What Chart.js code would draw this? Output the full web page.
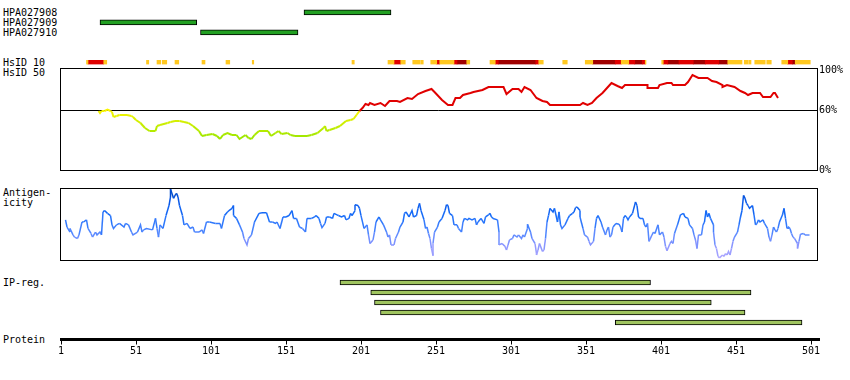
<!DOCTYPE html>
<html>
<head>
<meta charset="utf-8">
<script src="https://cdn.jsdelivr.net/npm/chart.js@4.4.1/dist/chart.umd.min.js"></script>
<style>
body { margin: 0; background: #fff; }
#wrap { position: relative; width: 850px; height: 380px; overflow: hidden;
        font-family: "DejaVu Sans Mono", monospace; font-size: 10px; line-height: 10px; color: #000; }
#wrap canvas { position: absolute; left: 0; }
.lbl { position: absolute; left: 3px; white-space: pre; }
</style>
</head>
<body>
<div id="wrap">
  <div class="lbl" style="top:7.5px">HPA027908</div>
  <div class="lbl" style="top:17.5px">HPA027909</div>
  <div class="lbl" style="top:27.5px">HPA027910</div>
  <div class="lbl" style="top:57.5px">HsID 10</div>
  <div class="lbl" style="top:67.5px">HsID 50</div>
  <div class="lbl" style="top:187.5px">Antigen-<br>icity</div>
  <div class="lbl" style="top:278px">IP-reg.</div>
  <div class="lbl" style="top:335px">Protein</div>
</div>
<script>
// antibody epitopes (residue ranges)
const hpaNames = ['HPA027908', 'HPA027909', 'HPA027910'];
const hpaRanges = [[163, 221], [27, 91.5], [94, 159]];

// HsID 10 strip, by colour class
const stripOrange = [[18, 19], [29.5, 31.5], [58, 59.5], [65, 67.5], [68.5, 71.5], [77, 79.5], [95, 97],
  [111, 113.5], [128.5, 129.5], [195, 196.5], [219, 223], [227.5, 230.5], [235.5, 240.5], [241, 242.5],
  [247.5, 251.5], [253.5, 263], [271.5, 273.5], [287, 290.5], [319.5, 322.5], [335.5, 338.5], [350.5, 355.5],
  [374.5, 379.5], [390.5, 391], [401.5, 402.5], [445.5, 455], [456.5, 459], [459.5, 461], [463.5, 470.5],
  [471.5, 474.5], [481.5, 485.5], [490.5, 500.5]];
const stripRed = [[19, 29.5], [223, 227.5], [251.5, 253.5], [263, 265], [290.5, 292.5], [317.5, 319.5],
  [370.5, 374.5], [379.5, 383.5], [388.5, 390.5], [402.5, 405.5], [413, 422.5], [430.5, 439.5], [485.5, 488.5]];
const stripDark = [[265, 271.5], [292.5, 317.5], [355.5, 370.5], [383.5, 388.5], [405.5, 413], [422.5, 430.5],
  [439.5, 445.5], [488.5, 490.5]];

// HsID 50 identity (%)
const hsidRes = [26, 27, 28, 30, 32, 34, 35, 36, 38, 40, 45, 48, 49, 51, 54, 57, 60, 64, 65, 67,
  72, 74, 77, 80, 83, 86, 89, 93, 95, 98, 102, 105, 107, 109, 112, 115, 118, 120, 124, 126,
  128, 130, 133, 136, 139, 141, 144, 146, 148, 152, 154, 157, 160, 165, 168, 172, 176, 177, 178, 180,
  184, 187, 191, 194, 196, 198, 200, 202, 204, 206, 207, 210, 214, 217, 220, 225, 227, 232, 235, 239,
  244, 248, 250, 255, 259, 262, 264, 267, 269, 274, 276, 282, 286, 296, 298, 302, 306, 308, 310, 314,
  318, 322, 325, 327, 347, 349, 352, 355, 358, 362, 365, 368, 372, 375, 377, 392, 392, 399, 400, 405,
  408, 409, 417, 419, 422, 426, 432, 435, 438, 442, 442, 445, 450, 454, 457, 459, 462, 467, 469, 474,
  476, 477, 479];
const hsidPct = [59, 57, 59, 59, 60.5, 59, 58, 53, 54, 55, 55, 54, 53, 50, 47, 42, 39, 39, 44, 45,
  47, 48, 49, 49, 48, 47, 44, 39, 34, 35, 36, 34, 31, 35, 37, 35, 35, 31, 35, 32,
  31, 35, 39, 39, 39, 34, 37, 39, 36, 37, 35, 34, 34, 34, 35, 37, 42, 44, 39, 40,
  42, 44, 49, 50, 51, 55, 59, 62, 66, 65, 67, 65, 67, 64, 69, 69, 68, 72, 71, 76,
  79, 81, 78, 70, 65, 65, 72, 72, 75, 77, 78, 80, 83, 83, 76, 81, 81, 78, 83, 80,
  72, 69, 68, 65, 65, 67, 65, 67, 72, 77, 82, 87, 84, 82, 85, 85, 82, 82, 85, 87,
  87, 85, 85, 88, 95, 92, 92, 89, 88, 85, 83, 85, 83, 79, 77, 75, 77, 77, 73, 73,
  77, 77, 72];
const hsidTicks = [0, 60, 100];

// antigenicity profile
const antiRes = [4, 5, 7, 7, 9, 10, 12, 13, 15, 16, 18, 19, 21, 22, 24, 25, 27, 28, 29, 30,
  32, 34, 35, 36, 38, 40, 43, 44, 46, 48, 49, 52, 54, 55, 56, 58, 62, 64, 65, 66,
  67, 69, 71, 73, 74, 74, 76, 77, 78, 79, 80, 82, 83, 85, 87, 89, 90, 93, 95, 96,
  98, 100, 104, 107, 108, 110, 112, 113, 115, 116, 116, 118, 120, 122, 123, 125, 126, 128, 130, 133,
  135, 138, 140, 142, 144, 145, 147, 149, 151, 153, 155, 156, 158, 160, 162, 164, 165, 168,
  170, 171, 173, 174, 175, 177, 178, 180, 182, 183, 185, 186, 188, 190, 191, 193, 194, 195, 197, 197,
  199, 200, 201, 203, 205, 206, 207, 209, 210, 211, 213, 214, 216, 218, 219, 220, 221, 223, 224, 226,
  227, 229, 230, 231, 233, 235, 236, 238, 239, 240, 241, 243, 244, 245, 246, 247, 248, 249, 249, 250,
  252, 253, 255, 257, 258, 259, 260, 262, 263, 265, 266, 268, 269, 270, 272, 273, 275, 277, 278, 279,
  281, 283, 284, 286, 287, 288, 289, 292, 293, 293, 295, 297, 298, 299, 300, 302, 303, 305, 306, 308,
  309, 310, 312, 312, 314, 315, 317, 318, 318, 319, 320, 322, 323, 324, 325, 326, 327, 329, 330, 332,
  333, 334, 335, 337, 339, 340, 342,
  343, 344, 345, 347, 347, 349, 350, 352, 353, 354, 356, 357, 358, 359, 361, 362, 364, 365, 366, 367,
  368, 369, 371, 373, 374, 375, 376, 377, 378, 379, 380, 382, 384, 385, 386, 387, 389, 390, 391, 392,
  393, 395, 396, 397, 399, 400, 402, 403, 404, 405, 407, 408, 409, 410, 412, 414, 416, 417, 419, 420,
  422, 423, 424, 425, 426, 428, 429, 430, 431, 432, 433, 434, 436, 436, 437, 438, 439, 440, 442, 443,
  444, 445, 446, 447, 448, 449, 450, 452, 453, 454, 455, 456, 457, 458, 459, 460, 462, 463, 464, 465,
  466, 467, 469, 470, 472, 473, 474, 475, 476, 477, 478, 479, 480, 482, 483, 484, 485, 486, 487, 488,
  489, 490, 492, 492, 493, 494, 496, 497, 499, 500];
const antiVal = [56, 46, 39, 44, 35, 32, 30, 35, 53, 53, 56, 44, 37, 32, 39, 35, 39, 35, 67, 69,
  65, 62, 49, 44, 49, 51, 46, 51, 49, 39, 35, 39, 49, 39, 42, 44, 42, 58, 44, 32,
  49, 44, 62, 76, 88, 99, 86, 90, 93, 88, 76, 62, 49, 51, 44, 46, 39, 39, 42, 37,
  53, 53, 51, 51, 44, 62, 67, 69, 72, 76, 62, 58, 49, 39, 30, 21, 30, 35, 53, 65,
  66, 66, 53, 53, 51, 53, 44, 60, 60, 62, 69, 58, 58, 46, 44, 39, 58, 58,
  60, 62, 58, 51, 45, 51, 60, 60, 58, 65, 63, 62, 60, 62, 56, 58, 65, 62, 69, 77,
  76, 72, 62, 44, 49, 35, 23, 28, 39, 53, 60, 56, 49, 39, 32, 35, 21, 21, 30, 39,
  46, 53, 65, 67, 60, 69, 60, 62, 72, 79, 69, 56, 44, 46, 37, 30, 16, 6, 23, 39,
  46, 53, 58, 69, 77, 76, 65, 62, 49, 49, 44, 39, 53, 58, 56, 58, 56, 58, 49, 53,
  58, 51, 60, 63, 65, 60, 58, 56, 39, 21, 23, 19, 14, 21, 28, 30, 35, 32, 35, 30,
  35, 32, 44, 50, 39, 30, 23, 9, 7, 14, 23, 12, 14, 30, 53, 62, 72, 67, 72, 53,
  67, 49, 44, 49, 58, 62, 65,
  67, 73, 74, 69, 60, 44, 35, 32, 26, 21, 26, 44, 58, 62, 53, 46, 35, 42, 46, 32,
  35, 46, 51, 50, 46, 39, 58, 62, 60, 56, 60, 65, 81, 76, 60, 58, 58, 49, 46, 51,
  26, 35, 39, 37, 49, 35, 39, 32, 19, 13, 23, 26, 23, 37, 49, 63, 65, 60, 58, 49,
  44, 35, 28, 16, 35, 35, 49, 53, 69, 60, 65, 58, 49, 39, 21, 16, 5, 3, 7, 5,
  9, 7, 12, 7, 16, 26, 32, 39, 49, 60, 69, 90, 86, 79, 76, 72, 76, 63, 49, 51,
  56, 53, 56, 51, 44, 32, 26, 35, 46, 42, 39, 44, 53, 63, 72, 58, 44, 46, 44, 37,
  32, 30, 23, 16, 26, 36, 37, 35, 35, 35];

// IP-reg. ranges
const ipRanges = [[187, 394], [207.5, 461], [210, 434.5], [214, 457], [370.5, 495]];

const proteinTicks = [1, 51, 101, 151, 201, 251, 301, 351, 401, 451, 501];

Chart.defaults.font.family = '"DejaVu Sans Mono", monospace';
Chart.defaults.font.size = 10;
Chart.defaults.color = '#000';

const X0 = 61, PX = 1.5; // pixel of residue 1, pixels per residue

function xScale(left, right) {
  return { type: 'linear', display: false, min: 1 + (left - X0) / PX, max: 1 + (right - X0) / PX };
}

function hsColor(p) {
  if (p >= 60) return '#e00000';
  const t = Math.min(1, (60 - p) / 30);
  return `rgb(${Math.round(250 - 100 * t)},${Math.round(245 - 15 * t)},0)`;
}

const antiStops = [[0, [180, 170, 255]], [20, [140, 150, 255]], [40, [80, 135, 255]],
  [60, [25, 110, 250]], [80, [10, 90, 235]], [100, [0, 70, 190]]];
function antiColor(v) {
  for (let i = 1; i < antiStops.length; i++) {
    const [v0, c0] = antiStops[i - 1];
    const [v1, c1] = antiStops[i];
    if (v <= v1 || i === antiStops.length - 1) {
      const t = Math.max(0, Math.min(1, (v - v0) / (v1 - v0)));
      return `rgb(${c0.map((c, k) => Math.round(c + (c1[k] - c) * t)).join(',')})`;
    }
  }
}

const frame = {
  id: 'frame',
  afterDraw(chart) {
    const a = chart.chartArea, c = chart.ctx;
    const l = Math.floor(a.left) + 0.5, r = Math.floor(a.right) + 0.5;
    const t = Math.floor(a.top) + 0.5, b = Math.floor(a.bottom) + 0.5;
    c.save();
    c.strokeStyle = '#000';
    c.lineWidth = 1;
    c.strokeRect(l, t, r - l, b - t);
    c.restore();
  }
};

function addChart(top, height, config) {
  const cv = document.createElement('canvas');
  cv.width = 850;
  cv.height = height;
  cv.style.top = top + 'px';
  document.getElementById('wrap').appendChild(cv);
  config.options = Object.assign({ responsive: false, animation: false, events: [] }, config.options);
  config.options.plugins = Object.assign({ legend: { display: false }, tooltip: { enabled: false } },
    config.options.plugins);
  return new Chart(cv, config);
}

// antibodies
addChart(0, 40, {
  type: 'bar',
  data: {
    labels: hpaNames,
    datasets: [{ data: hpaRanges, backgroundColor: '#22a022', borderColor: '#000',
      borderWidth: 1, borderSkipped: false, barThickness: 5 }]
  },
  options: {
    indexAxis: 'y',
    layout: { padding: { top: 7.35, bottom: 2.65, left: 61, right: 33 } },
    scales: { x: xScale(61, 817), y: { display: false } }
  }
});

// HsID 10 strip
const stripSet = (arr, color) => ({
  data: arr.map(r => ({ x: r, y: 'HsID 10' })), backgroundColor: color, borderWidth: 0,
  grouped: false, barPercentage: 1, categoryPercentage: 1
});
addChart(50, 20, {
  type: 'bar',
  data: {
    labels: ['HsID 10'],
    datasets: [stripSet(stripOrange, '#ffc820'), stripSet(stripRed, '#e00000'), stripSet(stripDark, '#a00000')]
  },
  options: {
    indexAxis: 'y',
    layout: { padding: { top: 10, bottom: 5.5, left: 61, right: 33 } },
    scales: { x: xScale(61, 817), y: { display: false } }
  }
});

// HsID 50 identity
addChart(60, 122, {
  type: 'line',
  data: {
    datasets: [{
      data: hsidRes.map((x, i) => ({ x, y: hsidPct[i] })),
      borderColor: '#e00000', borderWidth: 2, pointRadius: 0,
      segment: { borderColor: c => hsColor((c.p0.parsed.y + c.p1.parsed.y) / 2) }
    }]
  },
  options: {
    layout: { padding: { top: 8, bottom: 12, left: 60.5, right: 0 } },
    scales: {
      x: xScale(60.5, 817),
      y: {
        position: 'right', min: 0, max: 102,
        afterBuildTicks: s => { s.ticks = hsidTicks.map(v => ({ value: v })); },
        afterFit: s => { s.width = 33; },
        ticks: { callback: v => v + '%', padding: 2, color: '#000' },
        grid: { drawTicks: false, color: c => (c.tick && c.tick.value === 60 ? '#000' : 'rgba(0,0,0,0)') },
        border: { display: false }
      }
    }
  },
  plugins: [frame]
});

// antigenicity
addChart(180, 90, {
  type: 'line',
  data: {
    datasets: [{
      data: antiRes.map((x, i) => ({ x, y: antiVal[i] })),
      borderColor: '#1a6cf5', borderWidth: 1.5, pointRadius: 0,
      segment: { borderColor: c => antiColor((c.p0.parsed.y + c.p1.parsed.y) / 2) }
    }]
  },
  options: {
    layout: { padding: { top: 8.3, bottom: 10, left: 60.5, right: 33 } },
    scales: { x: xScale(60.5, 817), y: { display: false, min: 0, max: 100 } }
  },
  plugins: [frame]
});

// IP-reg.
addChart(270, 60, {
  type: 'bar',
  data: {
    labels: ipRanges.map((r, i) => i + 1),
    datasets: [{ data: ipRanges, backgroundColor: '#9fc45f', borderColor: '#000',
      borderWidth: 1, borderSkipped: false, barThickness: 5 }]
  },
  options: {
    indexAxis: 'y',
    layout: { padding: { top: 7.5, bottom: 2.5, left: 61, right: 33 } },
    scales: { x: xScale(61, 817), y: { display: false } }
  }
});

// protein axis
addChart(320, 50, {
  type: 'scatter',
  data: { datasets: [] },
  options: {
    layout: { padding: { top: 0, bottom: 0, left: 61, right: 31 } },
    scales: {
      x: {
        type: 'linear', position: 'bottom', min: 1, max: 1 + (819 - X0) / PX,
        afterBuildTicks: s => { s.ticks = proteinTicks.map(v => ({ value: v })); },
        afterFit: s => { s.height = 30.5; },
        ticks: { color: '#000', padding: 1, maxRotation: 0, autoSkip: false },
        grid: { drawOnChartArea: false, drawTicks: true, tickLength: 5, color: '#000' },
        border: { display: true, color: '#000', width: 3 }
      },
      y: { display: false }
    }
  }
});
</script>
</body>
</html>
